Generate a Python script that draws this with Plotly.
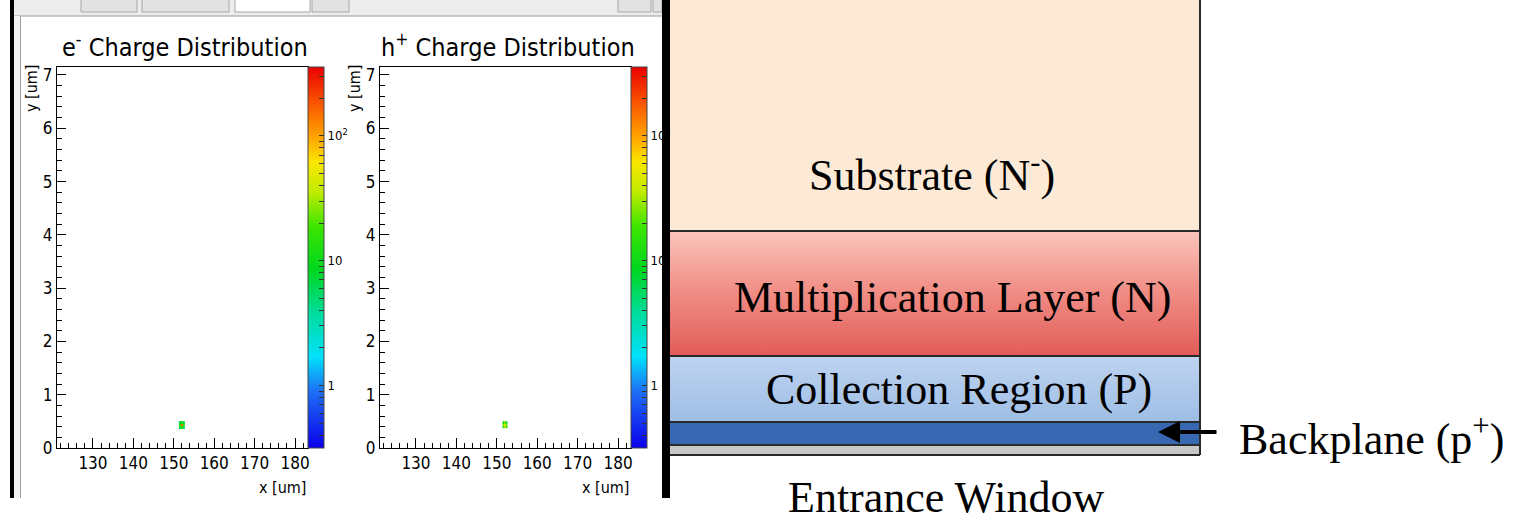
import numpy as np
import plotly.graph_objects as go

W, H = 1522, 516

# ---------------- data ----------------
x_tick_vals = [130, 140, 150, 160, 170, 180]
y_tick_vals = [0, 1, 2, 3, 4, 5, 6, 7]
x_range = [121.1, 183.2]
y_range = [0, 7.15]

e_bin_x = [151.5, 152.0, 152.5]
e_bin_y = [0.38, 0.43, 0.48]
e_counts = [[6, 14, 5], [15, 160, 18], [7, 12, 6]]

h_bin_x = [151.6, 152.0, 152.4]
h_bin_y = [0.39, 0.435, 0.48]
h_counts = [[14, 30, 12], [26, 45, 22], [11, 24, 9]]

cbar_major_vals = [1, 10, 100]
cbar_major_text = ["1", "10", "10<sup>2</sup>"]
cbar_minor_vals = [0.4, 0.5, 0.6, 0.7, 0.8, 0.9, 2, 3, 4, 5, 6, 7, 8, 9,
                   20, 30, 40, 50, 60, 70, 80, 90, 200, 300]
cbar_log_range = [-0.5, 2.55]

panel_titles = ["e<sup>-</sup> Charge Distribution", "h<sup>+</sup> Charge Distribution"]
axis_titles = ["x [um]", "y [um]"]

layer_names = ["Substrate (N<sup>-</sup>)", "Multiplication Layer (N)",
               "Collection Region (P)", "Backplane (p<sup>+</sup>)", "Entrance Window"]
layer_thickness = [231, 125, 66, 23, 10]

# ---------------- helpers ----------------
def px(x):
    return x / W


def py(y):
    return 1 - y / H


SANS = "Liberation Sans Narrow, DejaVu Sans Condensed, Arial Narrow, Liberation Sans, sans-serif"
SERIF = "Palatino Linotype, Book Antiqua, Liberation Serif, DejaVu Serif, serif"

root_scale = [
    [0.00, "rgb(10,0,235)"],
    [0.147, "rgb(30,110,245)"],
    [0.24, "rgb(0,225,250)"],
    [0.35, "rgb(0,220,160)"],
    [0.47, "rgb(0,215,30)"],
    [0.58, "rgb(60,230,0)"],
    [0.67, "rgb(190,235,0)"],
    [0.75, "rgb(250,230,0)"],
    [0.81, "rgb(255,170,0)"],
    [0.90, "rgb(250,90,0)"],
    [1.00, "rgb(235,0,0)"],
]

fig = go.Figure()

panels = [
    dict(bx=e_bin_x, by=e_bin_y, c=e_counts, left=57, right=308),
    dict(bx=h_bin_x, by=h_bin_y, c=h_counts, left=380, right=631),
]
top, bottom = 67, 448

cb_vals = np.log10(cbar_major_vals + cbar_minor_vals).tolist()
cb_text = cbar_major_text + [""] * len(cbar_minor_vals)

for i, p in enumerate(panels):
    n = "" if i == 0 else str(i + 1)
    z = np.log10(np.array(p["c"], dtype=float))
    fig.add_trace(go.Heatmap(
        x=p["bx"], y=p["by"], z=z,
        xaxis="x" + n, yaxis="y" + n,
        colorscale=root_scale, zmin=cbar_log_range[0], zmax=cbar_log_range[1],
        showscale=True, hoverinfo="skip",
        colorbar=dict(
            x=px(p["right"]), xanchor="left", xpad=0, ypad=0,
            y=py((top + bottom) / 2), yanchor="middle",
            len=(bottom - top) / H, lenmode="fraction",
            thickness=16, thicknessmode="pixels",
            outlinewidth=1, outlinecolor="#444",
            tickmode="array", tickvals=cb_vals, ticktext=cb_text,
            ticks="inside", ticklen=5, tickcolor="#333", tickwidth=1,
            tickfont=dict(family=SANS, size=13, color="black"),
        ),
    ))
    xa = dict(
        domain=[px(p["left"]), px(p["right"])], range=x_range, anchor="y" + n,
        showline=True, linecolor="black", linewidth=1, mirror=True,
        tickmode="array", tickvals=x_tick_vals, ticks="inside", ticklen=10,
        tickcolor="black", showgrid=False, zeroline=False,
        tickfont=dict(family=SANS, size=17, color="black"),
        minor=dict(dtick=2, tick0=0, ticks="inside", ticklen=5, tickcolor="black", showgrid=False),
    )
    ya = dict(
        domain=[py(bottom), py(top)], range=y_range, anchor="x" + n,
        showline=True, linecolor="black", linewidth=1, mirror=True,
        tickmode="array", tickvals=y_tick_vals, ticks="inside", ticklen=9,
        tickcolor="black", showgrid=False, zeroline=False,
        tickfont=dict(family=SANS, size=17, color="black"),
        minor=dict(dtick=0.2, tick0=0, ticks="inside", ticklen=5, tickcolor="black", showgrid=False),
    )
    fig.update_layout(**{"xaxis" + n: xa, "yaxis" + n: ya})

    cx = (p["left"] + p["right"]) / 2 + 2
    fig.add_annotation(text=panel_titles[i], xref="paper", yref="paper",
                       x=px(cx), y=py(45), xanchor="center", yanchor="middle", showarrow=False,
                       font=dict(family=SANS, size=25, color="black"))
    fig.add_annotation(text=axis_titles[1], xref="paper", yref="paper",
                       x=px(p["left"] - 25), y=py(89), xanchor="center", yanchor="middle",
                       showarrow=False, textangle=-90,
                       font=dict(family=SANS, size=16, color="black"))
    fig.add_annotation(text=axis_titles[0], xref="paper", yref="paper",
                       x=px(p["right"]), y=py(487), xanchor="right", yanchor="middle",
                       showarrow=False,
                       font=dict(family=SANS, size=16, color="black"))

# ---------------- diagram on a pixel-like axis ----------------
fig.update_layout(
    xaxis3=dict(domain=[0, 1], range=[0, W], visible=False, anchor="y3", fixedrange=True),
    yaxis3=dict(domain=[0, 1], range=[H, 0], visible=False, anchor="x3", fixedrange=True),
)
L, R = 670, 1200
bounds = np.concatenate([[0], np.cumsum(layer_thickness)]).tolist()
layer_fill = [
    dict(fillcolor="rgb(252,234,215)"),
    dict(fillgradient=dict(type="vertical", start=bounds[1], stop=bounds[2],
                           colorscale=[[0, "rgb(251,196,186)"], [0.5, "rgb(240,140,132)"], [1, "rgb(226,92,88)"]])),
    dict(fillgradient=dict(type="vertical", start=bounds[2], stop=bounds[3],
                           colorscale=[[0, "rgb(190,211,240)"], [1, "rgb(158,190,229)"]])),
    dict(fillcolor="rgb(56,104,178)"),
    dict(fillcolor="rgb(200,200,200)"),
]
for i in range(len(layer_thickness)):
    t, b = bounds[i], bounds[i + 1]
    fig.add_trace(go.Scatter(
        x=[L, R, R, L, L], y=[t, t, b, b, t], xaxis="x3", yaxis="y3",
        mode="lines", line=dict(width=0), fill="toself", hoverinfo="skip",
        showlegend=False, **layer_fill[i]))

# layer borders
bx, byv = [], []
for b in bounds[1:]:
    bx += [L, R, None]
    byv += [b, b, None]
bx += [R, R]
byv += [bounds[0], bounds[-1]]
fig.add_trace(go.Scatter(x=bx, y=byv, xaxis="x3", yaxis="y3", mode="lines",
                         line=dict(color="#2a2a2a", width=2), hoverinfo="skip", showlegend=False))

label_pos = [(932, 172), (952, 297), (959, 389), (1237, 436), (946, 497)]
for i, name in enumerate(layer_names):
    xx, yy = label_pos[i]
    fig.add_annotation(text=name, xref="x3", yref="y3", x=xx, y=yy,
                       xanchor="left" if i == 3 else "center", yanchor="middle", showarrow=False,
                       font=dict(family=SERIF, size=44, color="black"))

# arrow to backplane
fig.add_annotation(xref="x3", yref="y3", axref="x3", ayref="y3",
                   x=1158, y=432, ax=1218, ay=432, showarrow=True, text="",
                   arrowhead=2, arrowsize=1.1, arrowwidth=4, arrowcolor="black")

# ---------------- frame decorations (ROOT window) ----------------
shapes = []


def rect(x0, y0, x1, y1, fill, line=None, lw=0, layer="above"):
    shapes.append(dict(type="rect", xref="paper", yref="paper",
                       x0=px(x0), x1=px(x1), y0=py(y1), y1=py(y0),
                       fillcolor=fill, line=dict(color=line or fill, width=lw), layer=layer))


rect(14, 0, 662, 16, "#ECECEC")
shapes.append(dict(type="line", xref="paper", yref="paper", x0=px(14), x1=px(662),
                   y0=py(16), y1=py(16), line=dict(color="#9C9C9C", width=1)))
for (a, b2, f) in [(81, 137, "#E2E2E2"), (142, 229, "#E2E2E2"), (235, 310, "#FFFFFF"),
                   (312, 349, "#E2E2E2"), (618, 651, "#E2E2E2"), (653, 662, "#E2E2E2")]:
    rect(a, -2, b2, 12, f, line="#A8A8A8", lw=1)
rect(14, 16, 20, 498, "#F2F2F2")
shapes.append(dict(type="line", xref="paper", yref="paper", x0=px(20.5), x1=px(20.5),
                   y0=py(498), y1=py(16), line=dict(color="#A0A0A0", width=1)))
rect(10, 0, 14, 498, "black")
rect(662, 0, 670, 498, "black")
fig.update_layout(shapes=shapes)

fig.update_layout(
    width=W, height=H, margin=dict(l=0, r=0, t=0, b=0, pad=0, autoexpand=False),
    paper_bgcolor="white", plot_bgcolor="rgba(0,0,0,0)",
    showlegend=False,
)

fig.write_html("out.html", config={"displayModeBar": False},
               post_script="document.body.style.margin='0';document.body.style.padding='0';"
                           "document.body.style.overflow='hidden';")
